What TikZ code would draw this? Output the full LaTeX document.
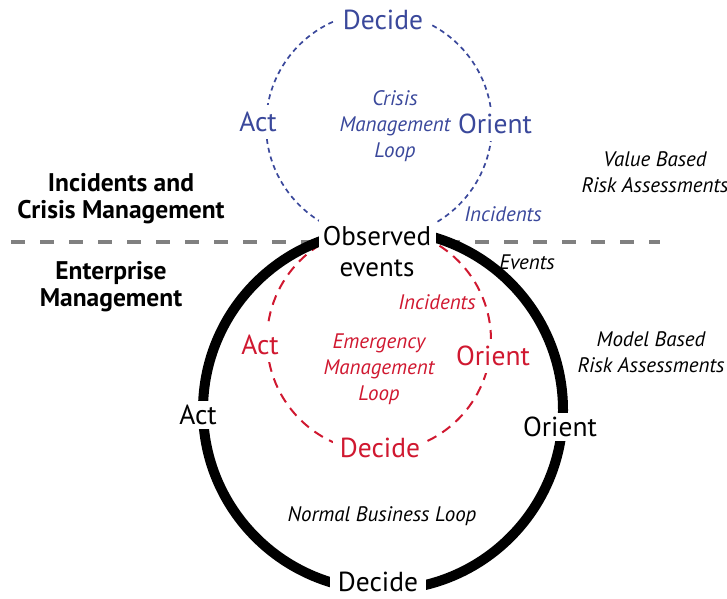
\documentclass[tikz,border=0pt]{standalone}
\usepackage{fontspec}
\setmainfont{PT Sans}
\definecolor{crisisblue}{RGB}{58,72,155}
\definecolor{emergred}{RGB}{208,24,48}
\definecolor{linegray}{RGB}{128,128,128}

\begin{document}
\begin{tikzpicture}[line cap=butt,line join=round,x=1pt,y=1pt,
    lbl/.style={fill=white,inner sep=4pt,font=\fontsize{27.5}{30}\selectfont},
    looplbl/.style={lbl,inner sep=7pt},
    note/.style={align=center,font=\fontsize{21}{26}\selectfont\itshape},
    head/.style={align=center,font=\fontsize{25.5}{27}\selectfont\bfseries}]
	\useasboundingbox (0,0) rectangle (727,598);
	% Trennlinie
	\draw[linegray,line width=3.5pt,dash pattern=on 14pt off 15pt] (11,356)--(660,356);
	% Boucle 1 : crise
	\draw[crisisblue,line width=1.7pt,dash pattern=on 5pt off 4pt] (379,473) circle (113);
	% Boucle 2 : urgence
	\draw[emergred,line width=2pt,dash pattern=on 10pt off 7pt] (379,258) circle (112);
	% Boucle 3 : normal
	\draw[line width=10pt] (383,188) circle (180);
	% Noeuds boucle 1
	\node[looplbl,text=crisisblue] (cdecide) at (383,578) {Decide};
	\node[looplbl,text=crisisblue] (cact) at (258,476) {Act};
	\node[looplbl,text=crisisblue] (corient) at (495,474) {Orient};
	\node[note,text=crisisblue] (cloop) at (395,472) {Crisis\\Management\\Loop};
	\node[note,text=crisisblue] (cinc) at (503,384) {Incidents};
	% Observation
	\node[fill=white,inner sep=0pt,minimum width=117,minimum height=64,align=center,
	  font=\fontsize{27}{31}\selectfont] (obs) at (377,346) {Observed\\events};
	\node[note] (events) at (527,336) {Events};
	% Noeuds boucle 2
	\node[note,text=emergred] (einc) at (437,296) {Incidents};
	\node[looplbl,text=emergred] (eact) at (260,253) {Act};
	\node[looplbl,text=emergred] (eorient) at (493,242) {Orient};
	\node[note,text=emergred] (eloop) at (379,229) {Emergency\\Management\\Loop};
	\node[looplbl,text=emergred] (edecide) at (380,150) {Decide};
	% Noeuds boucle 3
	\node[lbl] (nact) at (198,183) {Act};
	\node[lbl] (norient) at (560,171) {Orient};
	\node[lbl,inner xsep=8pt] (ndecide) at (378,16) {Decide};
	\node[note] (nloop) at (382,82) {Normal Business Loop};
	% Titres
	\node[head] (crisis) at (121,399) {Incidents and\\Crisis Management};
	\node[head] (enterprise) at (111,311) {Enterprise\\Management};
	\node[note] (value) at (655,426) {Value Based\\Risk Assessments};
	\node[note] (model) at (651,246) {Model Based\\Risk Assessments};
\end{tikzpicture}
\end{document}
